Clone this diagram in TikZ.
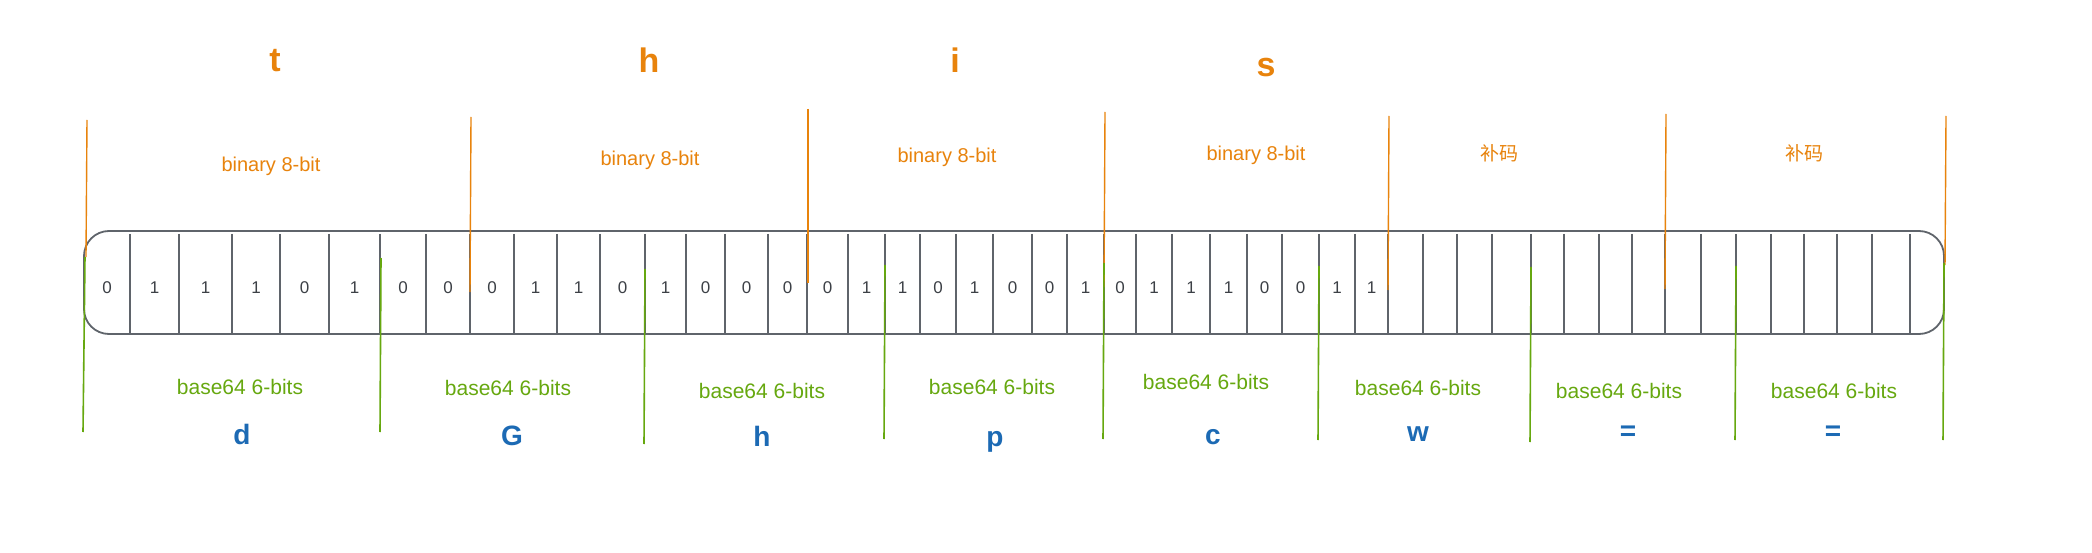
\documentclass[tikz,border=0pt]{standalone}
\usepackage{fontspec}
\setmainfont{Liberation Sans}
\newfontfamily\cjk{Noto Sans CJK SC}
\definecolor{boxgray}{HTML}{5F646B}
\definecolor{ora}{HTML}{E8830C}
\definecolor{grn}{HTML}{66A80F}
\definecolor{blu}{HTML}{1C6AB4}
\definecolor{bitc}{HTML}{3C4046}
\begin{document}
\begin{tikzpicture}[x=1pt,y=-1pt,
  cellline/.style={draw=boxgray, line width=1.8pt},
  oline/.style={draw=ora, line width=1.4pt},
  gline/.style={draw=grn, line width=1.6pt},
  bitlbl/.style={text=bitc, font=\fontsize{17}{19}\selectfont, inner sep=0pt},
  charlbl/.style={text=ora, font=\fontsize{34}{40}\selectfont\bfseries, inner sep=0pt, anchor=base},
  binlbl/.style={text=ora, font=\fontsize{20}{24}\selectfont, inner sep=0pt},
  cnlbl/.style={text=ora, font=\fontsize{19}{22}\selectfont\cjk, inner sep=0pt},
  b64lbl/.style={text=grn, font=\fontsize{21}{24}\selectfont, inner sep=0pt},
  outlbl/.style={text=blu, font=\fontsize{28}{32}\selectfont\bfseries, inner sep=0pt, anchor=base},
]
\useasboundingbox (0,0) rectangle (2092,553);
\fill[white] (0,0) rectangle (2092,553);

% the bit strip
\node[draw=boxgray, line width=1.8pt, rounded corners=25pt, minimum width=1860pt,
      minimum height=103pt, inner sep=0pt] (box) at (1014,282.5) {};
\foreach \x in {130,179,232,280,329,380,426,470,514,557,600,645,686,725,768,807,848,885,
                920,956,993,1032,1067,1104,1136,1172,1210,1247,1282,1319,1355,1388,1423,
                1457,1492,1531,1564,1599,1632,1665,1701,1736,1771,1804,1837,1872,1910}
  \draw[cellline] (\x,234) -- (\x,333);

% bits
\foreach[count=\i] \x/\b in {107/0,154.5/1,205.5/1,256/1,304.5/0,354.5/1,403/0,448/0,
    492/0,535.5/1,578.5/1,622.5/0,665.5/1,705.5/0,746.5/0,787.5/0,
    827.5/0,866.5/1,902.5/1,938/0,974.5/1,1012.5/0,1049.5/0,1085.5/1,
    1120/0,1154/1,1191/1,1228.5/1,1264.5/0,1300.5/0,1337/1,1371.5/1}
  \node[bitlbl] (bit\i) at (\x,288) {\b};

% orange separators (8-bit groups)
\draw[oline] (87,120) -- (86,257);
\draw[oline] (471,117) -- (470,292);
\draw[oline] (808,109) -- (808,283);
\draw[oline] (1105,112) -- (1104,287);
\draw[oline] (1389,116) -- (1388,290);
\draw[oline] (1666,114) -- (1665,289);
\draw[oline] (1946,116) -- (1945,265);

% green separators (6-bit groups)
\draw[gline] (85,257) -- (83,432);
\draw[gline] (381,258) -- (380,432);
\draw[gline] (645,269) -- (644,444);
\draw[gline] (885,265) -- (884,439);
\draw[gline] (1104,263) -- (1103,439);
\draw[gline] (1319,266) -- (1318,440);
\draw[gline] (1531,267) -- (1530,442);
\draw[gline] (1736,266) -- (1735,440);
\draw[gline] (1944,263) -- (1943,440);

% top characters
\node[charlbl] (ct) at (275,72) {t};
\node[charlbl] (ch) at (649,73) {h};
\node[charlbl] (ci) at (955,73) {i};
\node[charlbl] (cs) at (1266,77) {s};

% binary labels
\node[binlbl] (bin1) at (271,166) {binary 8-bit};
\node[binlbl] (bin2) at (650,160) {binary 8-bit};
\node[binlbl] (bin3) at (947,157) {binary 8-bit};
\node[binlbl] (bin4) at (1256,155) {binary 8-bit};
\node[cnlbl] (pad1) at (1499,153) {补码};
\node[cnlbl] (pad2) at (1804,153) {补码};

% base64 labels
\node[b64lbl] (g1) at (240,387) {base64 6-bits};
\node[b64lbl] (g2) at (508,388) {base64 6-bits};
\node[b64lbl] (g3) at (762,391) {base64 6-bits};
\node[b64lbl] (g4) at (992,387) {base64 6-bits};
\node[b64lbl] (g5) at (1206,382) {base64 6-bits};
\node[b64lbl] (g6) at (1418,388) {base64 6-bits};
\node[b64lbl] (g7) at (1619,391) {base64 6-bits};
\node[b64lbl] (g8) at (1834,391) {base64 6-bits};

% output characters
\node[outlbl] (o1) at (242,444) {d};
\node[outlbl] (o2) at (512,445) {G};
\node[outlbl] (o3) at (762,446) {h};
\node[outlbl] (o4) at (995,446) {p};
\node[outlbl] (o5) at (1213,444) {c};
\node[outlbl] (o6) at (1418,441) {w};
\node[outlbl] (o7) at (1628,440) {=};
\node[outlbl] (o8) at (1833,440) {=};
\end{tikzpicture}
\end{document}
